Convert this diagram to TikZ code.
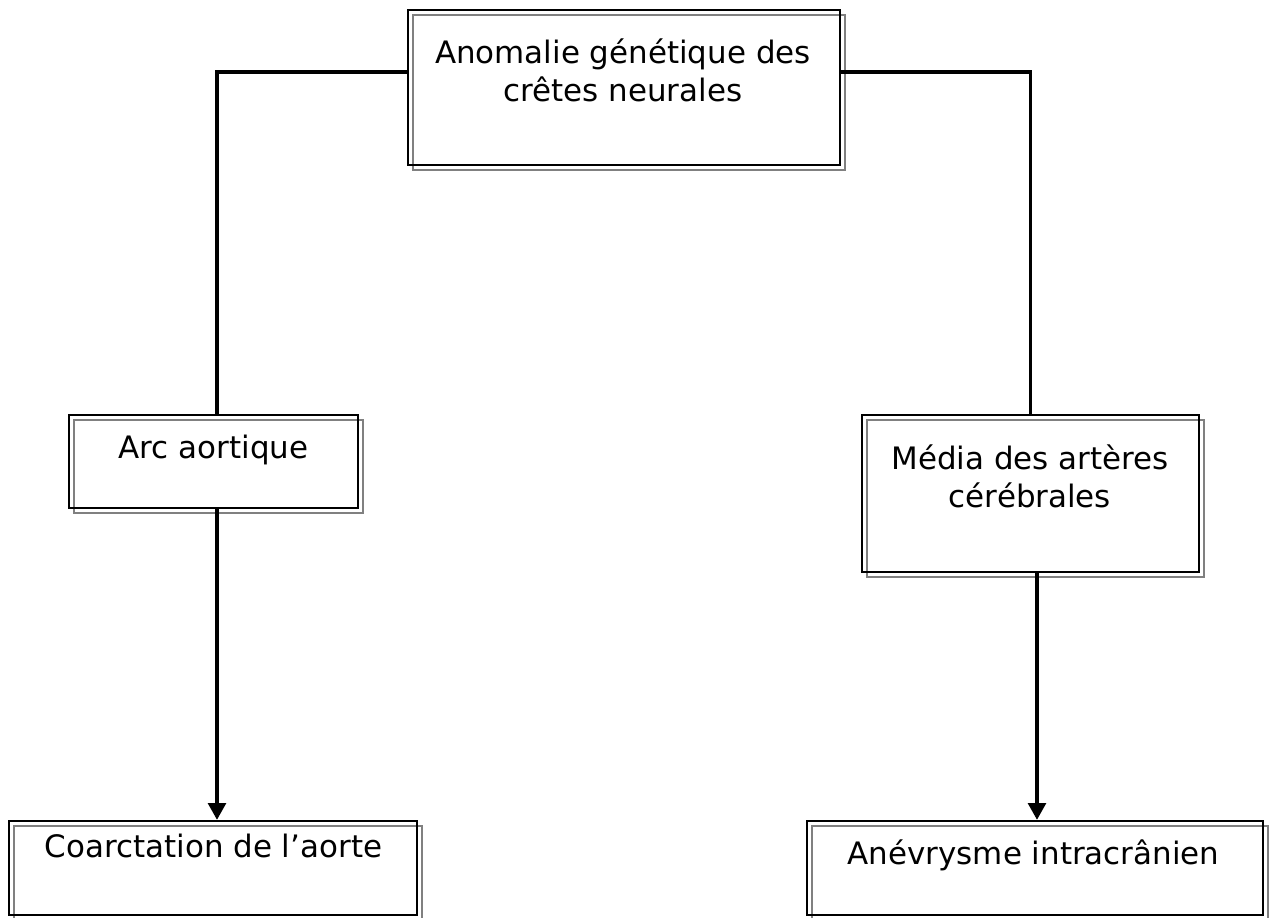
\documentclass[tikz,border=0pt]{standalone}
\usepackage{fontspec}
\setmainfont{DejaVu Sans}
\usepackage{tikz}
\usetikzlibrary{arrows.meta, shadows}
\definecolor{ShadowGray}{RGB}{128, 128, 128}

\tikzset{
  boxnode/.style={draw=black, line width=1.3pt, inner sep=0pt,
    general shadow={shadow xshift=0.1cm, shadow yshift=-0.1cm, draw=ShadowGray, line width=1.2pt}},
  boxtext/.style={inner sep=0pt, align=center, anchor=north,
    font=\fontsize{17.6pt}{21.6pt}\selectfont},
  link/.style={line width=2pt},
  arrow/.style={line width=2pt, -{Triangle[width=10pt, length=9.5pt]}}
}

\begin{document}
\begin{tikzpicture}[x=0.02cm, y=-0.02cm]
    \useasboundingbox (0,0) rectangle (1272,918);

    % Boxes
    \node[boxnode, minimum width=8.64cm, minimum height=3.10cm] (anomalie) at (624,87.5) {};
    \node[boxnode, minimum width=5.78cm, minimum height=1.86cm] (arc) at (213.5,461.5) {};
    \node[boxnode, minimum width=6.74cm, minimum height=3.14cm] (media) at (1030.5,493.5) {};
    \node[boxnode, minimum width=8.16cm, minimum height=1.88cm] (coarct) at (213,868) {};
    \node[boxnode, minimum width=9.12cm, minimum height=1.88cm] (anevr) at (1035,868) {};

    % Texts
    \node[boxtext] (anomalie-t) at (623,38) {Anomalie génétique des\\crêtes neurales};
    \node[boxtext] (arc-t) at (213.5,434.5) {Arc aortique};
    \node[boxtext] (media-t) at (1030,444) {Média des artères\\cérébrales};
    \node[boxtext] (coarct-t) at (213.5,833.5) {Coarctation de l’aorte};
    \node[boxtext] (anevr-t) at (1033.5,839) {Anévrysme intracrânien};

    % Connectors
    \coordinate (leftx) at (217,0);
    \coordinate (rightx) at (1037,0);
    \draw[link] ([yshift=0.31cm]anomalie.west) -| (arc.north -| leftx);
    \draw[link] ([yshift=0.31cm]anomalie.east) -| (media.north);
    \draw[arrow] (arc.south -| leftx) -- (coarct.north -| leftx);
    \draw[arrow] (media.south -| rightx) -- (anevr.north -| rightx);
\end{tikzpicture}
\end{document}
